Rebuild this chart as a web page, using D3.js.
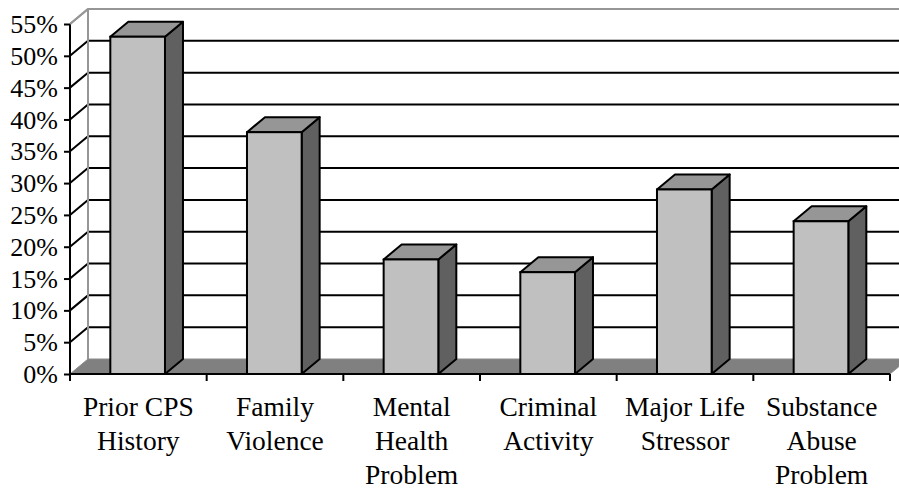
<!DOCTYPE html>
<html>
<head>
<meta charset="utf-8">
<script src="https://cdn.jsdelivr.net/npm/d3@7"></script>
<style>
  body { margin: 0; background: #fff; }
</style>
</head>
<body>
<div id="chart"><svg width="899" height="489"></svg></div>
<script>
// data
const categories = ["Prior CPS History", "Family Violence", "Mental Health Problem",
  "Criminal Activity", "Major Life Stressor", "Substance Abuse Problem"];
const labelLines = [["Prior CPS", "History"], ["Family", "Violence"], ["Mental", "Health", "Problem"],
  ["Criminal", "Activity"], ["Major Life", "Stressor"], ["Substance", "Abuse", "Problem"]];
const percents = [53, 38, 18, 16, 29, 24];
const yTicks = [0, 5, 10, 15, 20, 25, 30, 35, 40, 45, 50, 55];

const svg = d3.select("#chart svg");
const width = +svg.attr("width");

const margin = { left: 70, right: 9, top: 24, bottom: 115 };
const depthX = 18, depthY = 15;   // 3d offset of the back wall
const floorY = 374;
const fontName = '"Liberation Serif"';

const xScale = d3.scaleBand()
    .domain(categories)
    .range([margin.left, 890])
    .padding(0);

const yScale = d3.scaleLinear()
    .domain([0, 55])
    .range([floorY, margin.top]);

const line = d3.line();

// back wall + gridlines
const wall = svg.append("g");
wall.append("rect")
    .attr("x", margin.left + depthX)
    .attr("y", yScale(55) - depthY)
    .attr("width", 900)
    .attr("height", floorY - yScale(55))
    .attr("fill", "#fff");

wall.selectAll(".grid")
    .data(yTicks.filter(d => d > 0))
    .enter()
    .append("path")
    .attr("class", "grid")
    .attr("d", d => line([[margin.left, yScale(d)], [margin.left + depthX, yScale(d) - depthY], [width + 20, yScale(d) - depthY]]))
    .attr("fill", "none")
    .attr("stroke", d => d === 55 ? "#969696" : "#000")
    .attr("stroke-width", 2);

// left edge of the back wall
wall.append("path")
    .attr("d", line([[margin.left + depthX, yScale(55) - depthY], [margin.left + depthX, floorY - depthY]]))
    .attr("stroke", "#969696")
    .attr("stroke-width", 2);

// floor
svg.append("path")
    .attr("d", line([[margin.left, floorY], [890, floorY], [890 + depthX, floorY - depthY], [margin.left + depthX, floorY - depthY]]) + "Z")
    .attr("fill", "#808080")
    .attr("stroke", "#8c8c8c")
    .attr("stroke-width", 1);

// bars
const barW = xScale.bandwidth() * 0.4;
const barOff = xScale.bandwidth() * 0.295;
const bars = svg.selectAll(".bar")
    .data(categories.map((c, i) => ({ c, v: percents[i] })))
    .enter()
    .append("g")
    .attr("class", "bar");

bars.append("path")   // side
    .attr("d", d => {
        const x = xScale(d.c) + barOff + barW, y = yScale(d.v);
        return line([[x, y], [x + depthX, y - depthY], [x + depthX, floorY - depthY], [x, floorY]]) + "Z";
    })
    .attr("fill", "#606060")
    .attr("stroke", "#000")
    .attr("stroke-width", 2)
    .attr("stroke-linejoin", "round");

bars.append("path")   // top
    .attr("d", d => {
        const x = xScale(d.c) + barOff, y = yScale(d.v);
        return line([[x, y], [x + depthX, y - depthY], [x + barW + depthX, y - depthY], [x + barW, y]]) + "Z";
    })
    .attr("fill", "#969696")
    .attr("stroke", "#000")
    .attr("stroke-width", 2)
    .attr("stroke-linejoin", "round");

bars.append("rect")   // front
    .attr("x", d => xScale(d.c) + barOff)
    .attr("y", d => yScale(d.v))
    .attr("width", barW)
    .attr("height", d => floorY - yScale(d.v))
    .attr("fill", "#c0c0c0")
    .attr("stroke", "#000")
    .attr("stroke-width", 2);

// y axis
const yAxis = d3.axisLeft(yScale)
    .tickValues(yTicks)
    .tickFormat(d => d + "%")
    .tickSize(6)
    .tickPadding(6);

const yg = svg.append("g")
    .attr("class", "y-axis")
    .attr("transform", `translate(${margin.left},0)`)
    .call(yAxis);
yg.attr("font-family", null).attr("font-size", null);
yg.select(".domain").remove();
yg.selectAll("line").attr("stroke", "#000").attr("stroke-width", 2);
yg.selectAll("text")
    .style("font-family", fontName)
    .style("font-size", "26px")
    .attr("fill", "#000")
    .attr("dy", "0.33em");
svg.append("path")
    .attr("d", line([[margin.left, yScale(55)], [margin.left, floorY + 7]]))
    .attr("stroke", "#000")
    .attr("stroke-width", 2);
// diagonal from axis top to wall top
svg.append("path")
    .attr("d", line([[margin.left, yScale(55)], [margin.left + depthX, yScale(55) - depthY]]))
    .attr("stroke", "#969696")
    .attr("stroke-width", 2);

// x axis
const edges = categories.map(c => xScale(c)).concat([xScale.range()[1]]);
svg.append("path")
    .attr("d", line([[margin.left, floorY], [890, floorY]]))
    .attr("stroke", "#000")
    .attr("stroke-width", 2);
svg.selectAll(".x-tick")
    .data(edges)
    .enter()
    .append("line")
    .attr("class", "x-tick")
    .attr("x1", d => d).attr("x2", d => d)
    .attr("y1", floorY).attr("y2", floorY + 7)
    .attr("stroke", "#000")
    .attr("stroke-width", 2);

// category labels
const labels = svg.selectAll(".x-label")
    .data(categories)
    .enter()
    .append("text")
    .attr("class", "x-label")
    .attr("text-anchor", "middle")
    .style("font-family", fontName)
    .style("font-size", "27.5px");
labels.selectAll("tspan")
    .data((d, i) => labelLines[i].map(t => ({ t, x: xScale(d) + xScale.bandwidth() / 2 })))
    .enter()
    .append("tspan")
    .attr("x", d => d.x)
    .attr("y", (d, j) => 416 + j * 34)
    .text(d => d.t);
</script>
</body>
</html>
